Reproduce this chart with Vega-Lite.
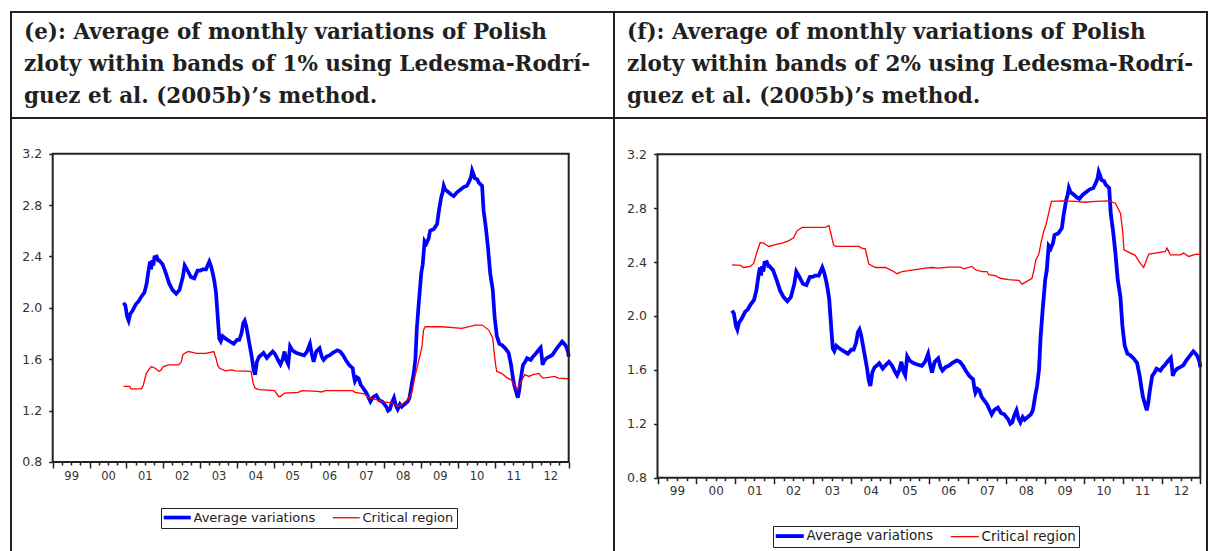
{
"$schema": "https://vega.github.io/schema/vega-lite/v6.json",
"background": "white",
"padding": {"left": 9, "top": 11, "right": 0, "bottom": 0},
"spacing": 0,
"bounds": "flush",
"config": {"view": {"stroke": "#231f20", "strokeWidth": 2}},
"resolve": {"scale": {"color": "independent"}, "legend": {"color": "independent"}},
"datasets": {
"avg": [
{"t":2000.92,"avg":2.04},{"t":2000.97,"avg":2.02},{"t":2001.02,"avg":1.93},{"t":2001.06,"avg":1.90},{"t":2001.10,"avg":1.95},{"t":2001.17,"avg":1.98},{"t":2001.26,"avg":2.03},{"t":2001.33,"avg":2.05},{"t":2001.40,"avg":2.085},{"t":2001.49,"avg":2.12},{"t":2001.55,"avg":2.19},{"t":2001.60,"avg":2.29},{"t":2001.64,"avg":2.36},{"t":2001.67,"avg":2.30},{"t":2001.70,"avg":2.37},{"t":2001.73,"avg":2.33},{"t":2001.76,"avg":2.395},{"t":2001.82,"avg":2.40},{"t":2001.86,"avg":2.37},{"t":2001.89,"avg":2.37},{"t":2001.98,"avg":2.34},{"t":2002.07,"avg":2.27},{"t":2002.16,"avg":2.19},{"t":2002.25,"avg":2.14},{"t":2002.35,"avg":2.11},{"t":2002.44,"avg":2.14},{"t":2002.53,"avg":2.24},{"t":2002.58,"avg":2.33},{"t":2002.62,"avg":2.31},{"t":2002.66,"avg":2.29},{"t":2002.75,"avg":2.24},{"t":2002.84,"avg":2.23},{"t":2002.93,"avg":2.29},{"t":2003.00,"avg":2.29},{"t":2003.07,"avg":2.30},{"t":2003.16,"avg":2.30},{"t":2003.25,"avg":2.36},{"t":2003.30,"avg":2.32},{"t":2003.35,"avg":2.26},{"t":2003.39,"avg":2.20},{"t":2003.43,"avg":2.12},{"t":2003.46,"avg":2.00},{"t":2003.49,"avg":1.88},{"t":2003.52,"avg":1.76},{"t":2003.56,"avg":1.74},{"t":2003.61,"avg":1.78},{"t":2003.69,"avg":1.76},{"t":2003.80,"avg":1.74},{"t":2003.91,"avg":1.72},{"t":2004.00,"avg":1.75},{"t":2004.06,"avg":1.75},{"t":2004.12,"avg":1.80},{"t":2004.17,"avg":1.88},{"t":2004.21,"avg":1.90},{"t":2004.25,"avg":1.86},{"t":2004.30,"avg":1.78},{"t":2004.35,"avg":1.70},{"t":2004.40,"avg":1.62},{"t":2004.45,"avg":1.52},{"t":2004.49,"avg":1.48},{"t":2004.54,"avg":1.58},{"t":2004.60,"avg":1.62},{"t":2004.65,"avg":1.63},{"t":2004.72,"avg":1.65},{"t":2004.81,"avg":1.61},{"t":2004.90,"avg":1.64},{"t":2004.97,"avg":1.66},{"t":2005.03,"avg":1.64},{"t":2005.07,"avg":1.62},{"t":2005.12,"avg":1.59},{"t":2005.18,"avg":1.56},{"t":2005.24,"avg":1.60},{"t":2005.29,"avg":1.66},{"t":2005.34,"avg":1.59},{"t":2005.39,"avg":1.56},{"t":2005.44,"avg":1.70},{"t":2005.50,"avg":1.67},{"t":2005.60,"avg":1.65},{"t":2005.70,"avg":1.64},{"t":2005.82,"avg":1.63},{"t":2005.90,"avg":1.66},{"t":2005.98,"avg":1.72},{"t":2006.03,"avg":1.64},{"t":2006.08,"avg":1.58},{"t":2006.15,"avg":1.66},{"t":2006.24,"avg":1.685},{"t":2006.30,"avg":1.62},{"t":2006.35,"avg":1.595},{"t":2006.43,"avg":1.62},{"t":2006.51,"avg":1.63},{"t":2006.60,"avg":1.65},{"t":2006.72,"avg":1.67},{"t":2006.80,"avg":1.66},{"t":2006.88,"avg":1.63},{"t":2006.96,"avg":1.59},{"t":2007.04,"avg":1.556},{"t":2007.10,"avg":1.54},{"t":2007.14,"avg":1.53},{"t":2007.17,"avg":1.47},{"t":2007.20,"avg":1.43},{"t":2007.25,"avg":1.46},{"t":2007.30,"avg":1.45},{"t":2007.36,"avg":1.40},{"t":2007.41,"avg":1.38},{"t":2007.46,"avg":1.36},{"t":2007.51,"avg":1.34},{"t":2007.57,"avg":1.30},{"t":2007.62,"avg":1.27},{"t":2007.68,"avg":1.30},{"t":2007.72,"avg":1.31},{"t":2007.78,"avg":1.32},{"t":2007.86,"avg":1.28},{"t":2007.94,"avg":1.27},{"t":2008.00,"avg":1.25},{"t":2008.05,"avg":1.23},{"t":2008.10,"avg":1.20},{"t":2008.15,"avg":1.21},{"t":2008.20,"avg":1.26},{"t":2008.26,"avg":1.30},{"t":2008.31,"avg":1.24},{"t":2008.36,"avg":1.21},{"t":2008.42,"avg":1.25},{"t":2008.47,"avg":1.23},{"t":2008.55,"avg":1.25},{"t":2008.63,"avg":1.27},{"t":2008.68,"avg":1.30},{"t":2008.71,"avg":1.35},{"t":2008.75,"avg":1.42},{"t":2008.79,"avg":1.48},{"t":2008.84,"avg":1.60},{"t":2008.88,"avg":1.84},{"t":2008.93,"avg":2.03},{"t":2009.00,"avg":2.27},{"t":2009.04,"avg":2.34},{"t":2009.09,"avg":2.52},{"t":2009.14,"avg":2.50},{"t":2009.20,"avg":2.54},{"t":2009.24,"avg":2.60},{"t":2009.34,"avg":2.614},{"t":2009.43,"avg":2.653},{"t":2009.47,"avg":2.74},{"t":2009.54,"avg":2.86},{"t":2009.58,"avg":2.90},{"t":2009.61,"avg":2.95},{"t":2009.65,"avg":2.92},{"t":2009.74,"avg":2.90},{"t":2009.82,"avg":2.88},{"t":2009.88,"avg":2.87},{"t":2009.97,"avg":2.90},{"t":2010.06,"avg":2.92},{"t":2010.15,"avg":2.94},{"t":2010.24,"avg":2.95},{"t":2010.31,"avg":2.99},{"t":2010.35,"avg":3.02},{"t":2010.38,"avg":3.07},{"t":2010.42,"avg":3.04},{"t":2010.45,"avg":3.01},{"t":2010.52,"avg":3.00},{"t":2010.56,"avg":2.975},{"t":2010.65,"avg":2.95},{"t":2010.69,"avg":2.76},{"t":2010.75,"avg":2.63},{"t":2010.81,"avg":2.47},{"t":2010.87,"avg":2.27},{"t":2010.94,"avg":2.14},{"t":2010.99,"avg":1.93},{"t":2011.05,"avg":1.78},{"t":2011.12,"avg":1.72},{"t":2011.19,"avg":1.71},{"t":2011.28,"avg":1.685},{"t":2011.37,"avg":1.65},{"t":2011.44,"avg":1.55},{"t":2011.48,"avg":1.47},{"t":2011.52,"avg":1.40},{"t":2011.58,"avg":1.34},{"t":2011.62,"avg":1.30},{"t":2011.66,"avg":1.36},{"t":2011.69,"avg":1.43},{"t":2011.76,"avg":1.556},{"t":2011.82,"avg":1.58},{"t":2011.87,"avg":1.608},{"t":2011.97,"avg":1.595},{"t":2012.03,"avg":1.62},{"t":2012.08,"avg":1.634},{"t":2012.15,"avg":1.66},{"t":2012.24,"avg":1.69},{"t":2012.27,"avg":1.62},{"t":2012.29,"avg":1.556},{"t":2012.34,"avg":1.59},{"t":2012.40,"avg":1.608},{"t":2012.48,"avg":1.62},{"t":2012.56,"avg":1.634},{"t":2012.64,"avg":1.67},{"t":2012.72,"avg":1.70},{"t":2012.82,"avg":1.737},{"t":2012.88,"avg":1.72},{"t":2012.93,"avg":1.70},{"t":2012.98,"avg":1.66},{"t":2013.00,"avg":1.62}
],
"critE": [
{"t":2000.92,"crit":1.388},{"t":2001.09,"crit":1.388},{"t":2001.12,"crit":1.37},{"t":2001.41,"crit":1.37},{"t":2001.46,"crit":1.40},{"t":2001.54,"crit":1.49},{"t":2001.61,"crit":1.52},{"t":2001.68,"crit":1.543},{"t":2001.78,"crit":1.53},{"t":2001.89,"crit":1.505},{"t":2001.95,"crit":1.52},{"t":2002.00,"crit":1.543},{"t":2002.15,"crit":1.556},{"t":2002.42,"crit":1.556},{"t":2002.49,"crit":1.58},{"t":2002.53,"crit":1.634},{"t":2002.60,"crit":1.65},{"t":2002.68,"crit":1.66},{"t":2002.79,"crit":1.654},{"t":2002.90,"crit":1.646},{"t":2003.16,"crit":1.646},{"t":2003.37,"crit":1.66},{"t":2003.43,"crit":1.608},{"t":2003.48,"crit":1.55},{"t":2003.53,"crit":1.53},{"t":2003.69,"crit":1.51},{"t":2003.85,"crit":1.517},{"t":2003.96,"crit":1.51},{"t":2004.38,"crit":1.505},{"t":2004.44,"crit":1.414},{"t":2004.49,"crit":1.375},{"t":2004.60,"crit":1.363},{"t":2005.02,"crit":1.355},{"t":2005.08,"crit":1.33},{"t":2005.13,"crit":1.31},{"t":2005.18,"crit":1.31},{"t":2005.29,"crit":1.337},{"t":2005.66,"crit":1.342},{"t":2005.76,"crit":1.355},{"t":2006.19,"crit":1.35},{"t":2006.29,"crit":1.345},{"t":2006.40,"crit":1.355},{"t":2007.14,"crit":1.355},{"t":2007.20,"crit":1.342},{"t":2007.46,"crit":1.33},{"t":2007.57,"crit":1.30},{"t":2007.78,"crit":1.285},{"t":2007.94,"crit":1.27},{"t":2008.20,"crit":1.26},{"t":2008.36,"crit":1.234},{"t":2008.47,"crit":1.246},{"t":2008.63,"crit":1.285},{"t":2008.74,"crit":1.337},{"t":2008.84,"crit":1.48},{"t":2008.95,"crit":1.61},{"t":2009.02,"crit":1.70},{"t":2009.06,"crit":1.827},{"t":2009.11,"crit":1.853},{"t":2009.56,"crit":1.853},{"t":2010.10,"crit":1.84},{"t":2010.47,"crit":1.866},{"t":2010.65,"crit":1.866},{"t":2010.83,"crit":1.827},{"t":2010.94,"crit":1.763},{"t":2010.97,"crit":1.672},{"t":2011.02,"crit":1.55},{"t":2011.05,"crit":1.505},{"t":2011.18,"crit":1.49},{"t":2011.34,"crit":1.453},{"t":2011.44,"crit":1.44},{"t":2011.55,"crit":1.388},{"t":2011.60,"crit":1.363},{"t":2011.71,"crit":1.427},{"t":2011.81,"crit":1.48},{"t":2011.92,"crit":1.466},{"t":2012.03,"crit":1.48},{"t":2012.19,"crit":1.49},{"t":2012.29,"crit":1.453},{"t":2012.45,"crit":1.458},{"t":2012.62,"crit":1.466},{"t":2012.72,"crit":1.453},{"t":2012.99,"crit":1.448}
],
"critF": [
{"t":2000.92,"crit":2.38},{"t":2001.14,"crit":2.375},{"t":2001.22,"crit":2.36},{"t":2001.39,"crit":2.368},{"t":2001.48,"crit":2.39},{"t":2001.57,"crit":2.48},{"t":2001.65,"crit":2.545},{"t":2001.74,"crit":2.54},{"t":2001.87,"crit":2.516},{"t":2002.04,"crit":2.53},{"t":2002.21,"crit":2.54},{"t":2002.38,"crit":2.558},{"t":2002.51,"crit":2.58},{"t":2002.60,"crit":2.632},{"t":2002.73,"crit":2.657},{"t":2003.33,"crit":2.657},{"t":2003.42,"crit":2.672},{"t":2003.46,"crit":2.627},{"t":2003.54,"crit":2.528},{"t":2003.60,"crit":2.516},{"t":2004.19,"crit":2.516},{"t":2004.27,"crit":2.504},{"t":2004.36,"crit":2.499},{"t":2004.45,"crit":2.385},{"t":2004.62,"crit":2.36},{"t":2004.88,"crit":2.36},{"t":2004.96,"crit":2.35},{"t":2005.09,"crit":2.33},{"t":2005.18,"crit":2.314},{"t":2005.31,"crit":2.33},{"t":2005.48,"crit":2.336},{"t":2005.91,"crit":2.355},{"t":2006.08,"crit":2.36},{"t":2006.25,"crit":2.355},{"t":2006.51,"crit":2.363},{"t":2006.81,"crit":2.363},{"t":2006.90,"crit":2.35},{"t":2007.11,"crit":2.368},{"t":2007.20,"crit":2.343},{"t":2007.37,"crit":2.33},{"t":2007.50,"crit":2.33},{"t":2007.54,"crit":2.306},{"t":2007.71,"crit":2.30},{"t":2007.84,"crit":2.28},{"t":2008.06,"crit":2.27},{"t":2008.32,"crit":2.264},{"t":2008.40,"crit":2.237},{"t":2008.53,"crit":2.257},{"t":2008.66,"crit":2.28},{"t":2008.70,"crit":2.33},{"t":2008.76,"crit":2.417},{"t":2008.83,"crit":2.454},{"t":2008.90,"crit":2.553},{"t":2008.96,"crit":2.627},{"t":2009.02,"crit":2.677},{"t":2009.09,"crit":2.763},{"t":2009.16,"crit":2.85},{"t":2009.43,"crit":2.854},{"t":2009.78,"crit":2.85},{"t":2010.03,"crit":2.844},{"t":2010.29,"crit":2.85},{"t":2010.64,"crit":2.854},{"t":2010.81,"crit":2.837},{"t":2010.94,"crit":2.763},{"t":2011.00,"crit":2.627},{"t":2011.03,"crit":2.491},{"t":2011.15,"crit":2.474},{"t":2011.32,"crit":2.45},{"t":2011.45,"crit":2.393},{"t":2011.54,"crit":2.36},{"t":2011.67,"crit":2.459},{"t":2011.84,"crit":2.467},{"t":2012.10,"crit":2.479},{"t":2012.14,"crit":2.504},{"t":2012.23,"crit":2.454},{"t":2012.49,"crit":2.454},{"t":2012.57,"crit":2.467},{"t":2012.70,"crit":2.442},{"t":2012.83,"crit":2.454},{"t":2012.91,"crit":2.459},{"t":2013.00,"crit":2.455}
]
},
"hconcat": [
{
"width": 603, "height": 542,
"title": {"text": ["(e): Average of monthly variations of Polish", "zloty within bands of 1% using Ledesma-Rodrí-", "guez et al. (2005b)’s method."], "anchor": "start", "frame": "group", "orient": "top", "offset": -95, "dx": 13, "font": "DejaVu Serif", "fontSize": 21.5, "fontWeight": "bold", "lineHeight": 32, "color": "#231f20"},
"resolve": {"axis": {"x": "independent"}},
"layer": [
{"data": {"name": "avg"}, "transform": [{"fold": ["avg"], "as": ["s", "v"]}],
 "mark": {"type": "line", "strokeWidth": 3.7},
 "encoding": {
  "x": {"field": "t", "type": "quantitative", "scale": {"domain": [1997.8686, 2014.2291], "zero": false, "nice": false},
   "axis": {"orient": "bottom", "title": null, "offset": -92, "domain": false, "grid": false, "values": [1999.25,1999.5,1999.75,2000.25,2000.5,2000.75,2001.25,2001.5,2001.75,2002.25,2002.5,2002.75,2003.25,2003.5,2003.75,2004.25,2004.5,2004.75,2005.25,2005.5,2005.75,2006.25,2006.5,2006.75,2007.25,2007.5,2007.75,2008.25,2008.5,2008.75,2009.25,2009.5,2009.75,2010.25,2010.5,2010.75,2011.25,2011.5,2011.75,2012.25,2012.5,2012.75],
    "labelExpr": "datum.value % 1 == 0.5 ? format(floor(datum.value) % 100, '02d') : ''",
    "tickSize": 3, "tickColor": "#222", "tickWidth": 1.5, "labelOverlap": false, "labelFlush": false, "labelBound": false,
    "labelFont": "DejaVu Sans", "labelFontSize": 11.5, "labelColor": "#333", "labelPadding": 5}},
  "y": {"field": "v", "type": "quantitative", "scale": {"domain": [0.0838, 4.3031], "zero": false, "nice": false},
   "axis": {"title": null, "offset": -41.7, "domain": false, "grid": false, "values": [0.8,1.2,1.6,2.0,2.4,2.8,3.2], "format": ".1f",
    "tickSize": 4, "tickColor": "#222", "tickWidth": 1.5, "labelFont": "DejaVu Sans", "labelFontSize": 12.5, "labelColor": "#333", "labelPadding": 7}},
  "color": {"field": "s", "type": "nominal", "scale": {"domain": ["avg", "crit"], "range": ["#0000ff", "#ff0000"]},
   "legend": {"orient": "none", "legendX": 150, "legendY": 496, "direction": "horizontal", "title": null, "symbolType": "M-1,0H3", "symbolSize": 182, "labelFont": "DejaVu Sans", "labelFontSize": 13, "labelColor": "#222", "labelOffset": 16.5, "columnPadding": 14, "padding": 3, "strokeColor": "#222", "fillColor": "white",
    "labelExpr": "datum.label == 'avg' ? 'Average variations' : 'Critical region'",
    "encode": {"symbols": {"update": {"strokeWidth": {"signal": "datum.value == 'avg' ? 3.7 : 1.3"}}}}}}
 }},
{"data": {"values": [{}]}, "mark": {"type": "rect", "fillOpacity": 0, "stroke": "#222", "strokeWidth": 2},
 "encoding": {
  "x": {"datum": 1999, "axis": {"orient": "bottom", "title": null, "offset": -92, "domain": false, "grid": false, "labels": false, "values": [1999,2000,2001,2002,2003,2004,2005,2006,2007,2008,2009,2010,2011,2012,2013], "tickSize": 6, "tickColor": "#222", "tickWidth": 1.5}},
  "x2": {"datum": 2013}, "y": {"datum": 0.8}, "y2": {"datum": 3.2}}},
{"data": {"values": [{}]}, "mark": {"type": "rule", "stroke": "#231f20", "strokeWidth": 2},
 "encoding": {"y": {"datum": 3.4779}}},
{"data": {"name": "critE"}, "transform": [{"fold": ["crit"], "as": ["s", "v"]}],
 "mark": {"type": "line", "strokeWidth": 1.3},
 "encoding": {"x": {"field": "t", "type": "quantitative", "axis": null}, "y": {"field": "v", "type": "quantitative"},
  "color": {"field": "s", "type": "nominal"}}}
]
},
{
"width": 593, "height": 542,
"title": {"text": ["(f): Average of monthly variations of Polish", "zloty within bands of 2% using Ledesma-Rodrí-", "guez et al. (2005b)’s method."], "anchor": "start", "frame": "group", "orient": "top", "offset": -95, "dx": 13, "font": "DejaVu Serif", "fontSize": 21.5, "fontWeight": "bold", "lineHeight": 32, "color": "#231f20"},
"resolve": {"axis": {"x": "independent"}},
"layer": [
{"data": {"name": "avg"}, "transform": [{"fold": ["avg"], "as": ["s", "v"]}],
 "mark": {"type": "line", "strokeWidth": 3.8},
 "encoding": {
  "x": {"field": "t", "type": "quantitative", "scale": {"domain": [1997.878, 2013.1729], "zero": false, "nice": false},
   "axis": {"orient": "bottom", "title": null, "offset": -76.3, "domain": false, "grid": false, "values": [1999.25,1999.5,1999.75,2000.25,2000.5,2000.75,2001.25,2001.5,2001.75,2002.25,2002.5,2002.75,2003.25,2003.5,2003.75,2004.25,2004.5,2004.75,2005.25,2005.5,2005.75,2006.25,2006.5,2006.75,2007.25,2007.5,2007.75,2008.25,2008.5,2008.75,2009.25,2009.5,2009.75,2010.25,2010.5,2010.75,2011.25,2011.5,2011.75,2012.25,2012.5,2012.75],
    "labelExpr": "datum.value % 1 == 0.5 ? format(floor(datum.value) % 100, '02d') : ''",
    "tickSize": 3, "tickColor": "#222", "tickWidth": 1.5, "labelOverlap": false, "labelFlush": false, "labelBound": false,
    "labelFont": "DejaVu Sans", "labelFontSize": 12, "labelColor": "#333", "labelPadding": 5}},
  "y": {"field": "v", "type": "quantitative", "scale": {"domain": [0.2337, 4.256], "zero": false, "nice": false},
   "axis": {"title": null, "offset": -43.5, "domain": false, "grid": false, "values": [0.8,1.2,1.6,2.0,2.4,2.8,3.2], "format": ".1f",
    "tickSize": 4, "tickColor": "#222", "tickWidth": 1.5, "labelFont": "DejaVu Sans", "labelFontSize": 12.5, "labelColor": "#333", "labelPadding": 7}},
  "color": {"field": "s", "type": "nominal", "scale": {"domain": ["avg", "crit"], "range": ["#0000ff", "#ff0000"]},
   "legend": {"orient": "none", "legendX": 159, "legendY": 514, "direction": "horizontal", "title": null, "symbolType": "M-1,0H3", "symbolSize": 196, "labelFont": "DejaVu Sans", "labelFontSize": 13.5, "labelColor": "#222", "labelOffset": 17, "columnPadding": 15, "padding": 3, "strokeColor": "#222", "fillColor": "white",
    "labelExpr": "datum.label == 'avg' ? 'Average variations' : 'Critical region'",
    "encode": {"symbols": {"update": {"strokeWidth": {"signal": "datum.value == 'avg' ? 3.8 : 1.3"}}}}}}
 }},
{"data": {"values": [{}]}, "mark": {"type": "rect", "fillOpacity": 0, "stroke": "#222", "strokeWidth": 2},
 "encoding": {
  "x": {"datum": 1999, "axis": {"orient": "bottom", "title": null, "offset": -76.3, "domain": false, "grid": false, "labels": false, "values": [1999,2000,2001,2002,2003,2004,2005,2006,2007,2008,2009,2010,2011,2012,2013], "tickSize": 6, "tickColor": "#222", "tickWidth": 1.5}},
  "x2": {"datum": 2013}, "y": {"datum": 0.8}, "y2": {"datum": 3.2}}},
{"data": {"values": [{}]}, "mark": {"type": "rule", "stroke": "#231f20", "strokeWidth": 2},
 "encoding": {"y": {"datum": 3.4694}}},
{"data": {"name": "critF"}, "transform": [{"fold": ["crit"], "as": ["s", "v"]}],
 "mark": {"type": "line", "strokeWidth": 1.3},
 "encoding": {"x": {"field": "t", "type": "quantitative", "axis": null}, "y": {"field": "v", "type": "quantitative"},
  "color": {"field": "s", "type": "nominal"}}}
]
}
]
}
